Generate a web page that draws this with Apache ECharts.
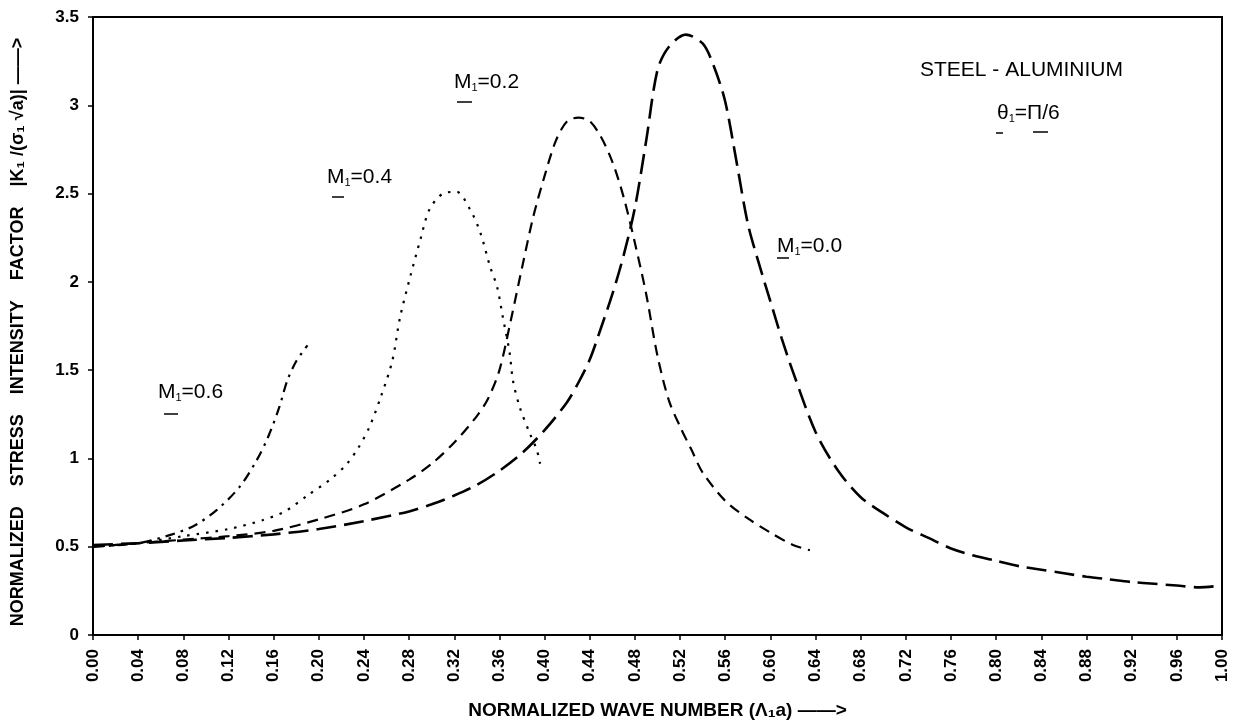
<!DOCTYPE html>
<html>
<head>
<meta charset="utf-8">
<script src="https://cdn.jsdelivr.net/npm/echarts@6/dist/echarts.min.js"></script>
<style>
  html, body { margin: 0; padding: 0; background: #fff; }
  #main { width: 1239px; height: 725px; }
</style>
</head>
<body>
<div id="main"></div>
<script>
// 曲线数据
var m00X = [0, 0.04, 0.08, 0.12, 0.16, 0.20, 0.24, 0.28, 0.30, 0.32, 0.34, 0.36, 0.38, 0.40, 0.42, 0.43, 0.44, 0.45, 0.46, 0.47, 0.48, 0.49, 0.50, 0.51, 0.525, 0.54, 0.55, 0.56, 0.57, 0.58, 0.59, 0.60, 0.61, 0.62, 0.64, 0.66, 0.68, 0.70, 0.72, 0.74, 0.76, 0.78, 0.80, 0.82, 0.84, 0.86, 0.88, 0.90, 0.92, 0.94, 0.96, 0.98, 1.00];
var m00Y = [0.51, 0.52, 0.535, 0.55, 0.57, 0.60, 0.645, 0.70, 0.74, 0.79, 0.85, 0.93, 1.03, 1.16, 1.32, 1.43, 1.56, 1.74, 1.93, 2.15, 2.42, 2.80, 3.20, 3.33, 3.40, 3.35, 3.22, 3.02, 2.68, 2.33, 2.10, 1.89, 1.68, 1.49, 1.15, 0.93, 0.78, 0.69, 0.61, 0.55, 0.49, 0.45, 0.42, 0.39, 0.37, 0.35, 0.33, 0.315, 0.30, 0.29, 0.28, 0.27, 0.28];

var m02X = [0, 0.04, 0.08, 0.12, 0.16, 0.20, 0.24, 0.28, 0.30, 0.32, 0.34, 0.35, 0.36, 0.37, 0.38, 0.39, 0.40, 0.41, 0.42, 0.43, 0.44, 0.45, 0.46, 0.47, 0.48, 0.49, 0.50, 0.51, 0.52, 0.53, 0.54, 0.56, 0.58, 0.60, 0.62, 0.635];
var m02Y = [0.50, 0.52, 0.54, 0.56, 0.59, 0.655, 0.74, 0.88, 0.97, 1.09, 1.24, 1.34, 1.50, 1.78, 2.08, 2.37, 2.60, 2.80, 2.91, 2.93, 2.91, 2.82, 2.68, 2.48, 2.22, 1.93, 1.58, 1.33, 1.18, 1.05, 0.92, 0.76, 0.66, 0.58, 0.51, 0.48];

var m04X = [0, 0.04, 0.08, 0.12, 0.15, 0.17, 0.19, 0.21, 0.225, 0.235, 0.245, 0.255, 0.265, 0.272, 0.281, 0.29, 0.298, 0.31, 0.322, 0.334, 0.343, 0.352, 0.358, 0.363, 0.369, 0.372, 0.378, 0.387, 0.393, 0.396];
var m04Y = [0.50, 0.52, 0.56, 0.60, 0.65, 0.70, 0.79, 0.88, 0.97, 1.06, 1.18, 1.35, 1.55, 1.80, 2.03, 2.24, 2.41, 2.50, 2.51, 2.41, 2.28, 2.08, 1.97, 1.80, 1.60, 1.44, 1.29, 1.14, 1.05, 0.97];

var m06X = [0, 0.04, 0.07, 0.09, 0.11, 0.13, 0.145, 0.155, 0.165, 0.172, 0.18, 0.19];
var m06Y = [0.50, 0.52, 0.57, 0.62, 0.71, 0.84, 0.99, 1.12, 1.29, 1.44, 1.55, 1.64];

var xMin = 0, xMax = 1, xStep = 0.04;
var yMin = 0, yMax = 3.5, yStep = 0.5;

function pairs(xs, ys) {
  return xs.map(function (x, i) { return [x, ys[i]]; });
}

var myChart = echarts.init(document.getElementById('main'));

var FONT = 'Liberation Sans, Arial, sans-serif';

var tickFont = {
  color: '#000',
  fontFamily: FONT,
  fontWeight: 'bold',
  fontSize: 17
};

// 带下标的标注文字
function subLabel(head, val, left, top) {
  return {
    type: 'text',
    left: left,
    top: top,
    style: {
      text: '{m|' + head + '}{s|1}{t|=' + val + '}',
      rich: {
        m: { fontSize: 21, fontFamily: FONT, fill: '#000' },
        s: { fontSize: 11, fontFamily: FONT, fill: '#000', padding: [10, 0, 0, 0] },
        t: { fontSize: 21, fontFamily: FONT, fill: '#000' }
      }
    }
  };
}

// 字母下方的小短线
function mark(x1, x2, y) {
  return {
    type: 'line',
    shape: { x1: x1, y1: y, x2: x2, y2: y },
    style: { stroke: '#000', lineWidth: 1.5 }
  };
}

var option = {
  backgroundColor: '#fff',
  animation: false,
  grid: {
    left: 93, right: 17, top: 17, bottom: 90,
    outerBoundsMode: 'none',
    containLabel: false,
    show: true, borderColor: '#000', borderWidth: 2
  },
  xAxis: {
    type: 'value',
    min: xMin, max: xMax, interval: xStep,
    name: 'NORMALIZED WAVE NUMBER (Λ₁a) ——>',
    nameLocation: 'middle',
    nameGap: 66,
    nameTextStyle: { color: '#000', fontFamily: FONT, fontWeight: 'bold', fontSize: 19 },
    axisLine: { lineStyle: { color: '#000', width: 2 } },
    axisTick: { show: true, length: 5, lineStyle: { color: '#000', width: 1.5 } },
    splitLine: { show: false },
    axisLabel: Object.assign({
      rotate: 90, margin: 14,
      formatter: function (v) { return v.toFixed(2); }
    }, tickFont)
  },
  yAxis: {
    type: 'value',
    min: yMin, max: yMax, interval: yStep,
    axisLine: { lineStyle: { color: '#000', width: 2 } },
    axisTick: { show: true, length: 5, lineStyle: { color: '#000', width: 1.5 } },
    splitLine: { show: false },
    axisLabel: Object.assign({ margin: 14 }, tickFont)
  },
  series: [
    {
      name: 'M1=0.0', type: 'line', smooth: 0.3, symbol: 'none',
      lineStyle: { color: '#000', width: 2.6, type: [20, 8] },
      data: pairs(m00X, m00Y)
    },
    {
      name: 'M1=0.2', type: 'line', smooth: 0.3, symbol: 'none',
      lineStyle: { color: '#000', width: 2.2, type: [11, 7] },
      data: pairs(m02X, m02Y)
    },
    {
      name: 'M1=0.4', type: 'line', smooth: 0.3, symbol: 'none',
      lineStyle: { color: '#000', width: 2.2, type: [2.5, 7] },
      data: pairs(m04X, m04Y)
    },
    {
      name: 'M1=0.6', type: 'line', smooth: 0.3, symbol: 'none',
      lineStyle: { color: '#000', width: 2.2, type: [10, 6, 2.5, 6] },
      data: pairs(m06X, m06Y)
    }
  ],
  graphic: [
    subLabel('M', '0.2', 454, 72),
    subLabel('M', '0.4', 327, 167),
    subLabel('M', '0.6', 158, 382),
    subLabel('M', '0.0', 777, 236),
    subLabel('θ', 'Π/6', 997, 103),
    mark(457, 472, 102),
    mark(332, 344, 197),
    mark(164, 178, 414),
    mark(777, 789, 258),
    mark(996, 1003, 133),
    mark(1033, 1048, 132),
    {
      type: 'text', left: 920, top: 60,
      style: { text: 'STEEL - ALUMINIUM', fontSize: 21, fontFamily: FONT, fill: '#000' }
    },
    {
      type: 'text', x: 18, y: 332, rotation: Math.PI / 2,
      style: {
        text: 'NORMALIZED    STRESS    INTENSITY    FACTOR    |K₁ /(σ₁ √a)| ——>',
        fontSize: 18, fontWeight: 'bold', fontFamily: FONT, fill: '#000',
        align: 'center', verticalAlign: 'middle'
      }
    }
  ]
};

myChart.setOption(option);
</script>
</body>
</html>
